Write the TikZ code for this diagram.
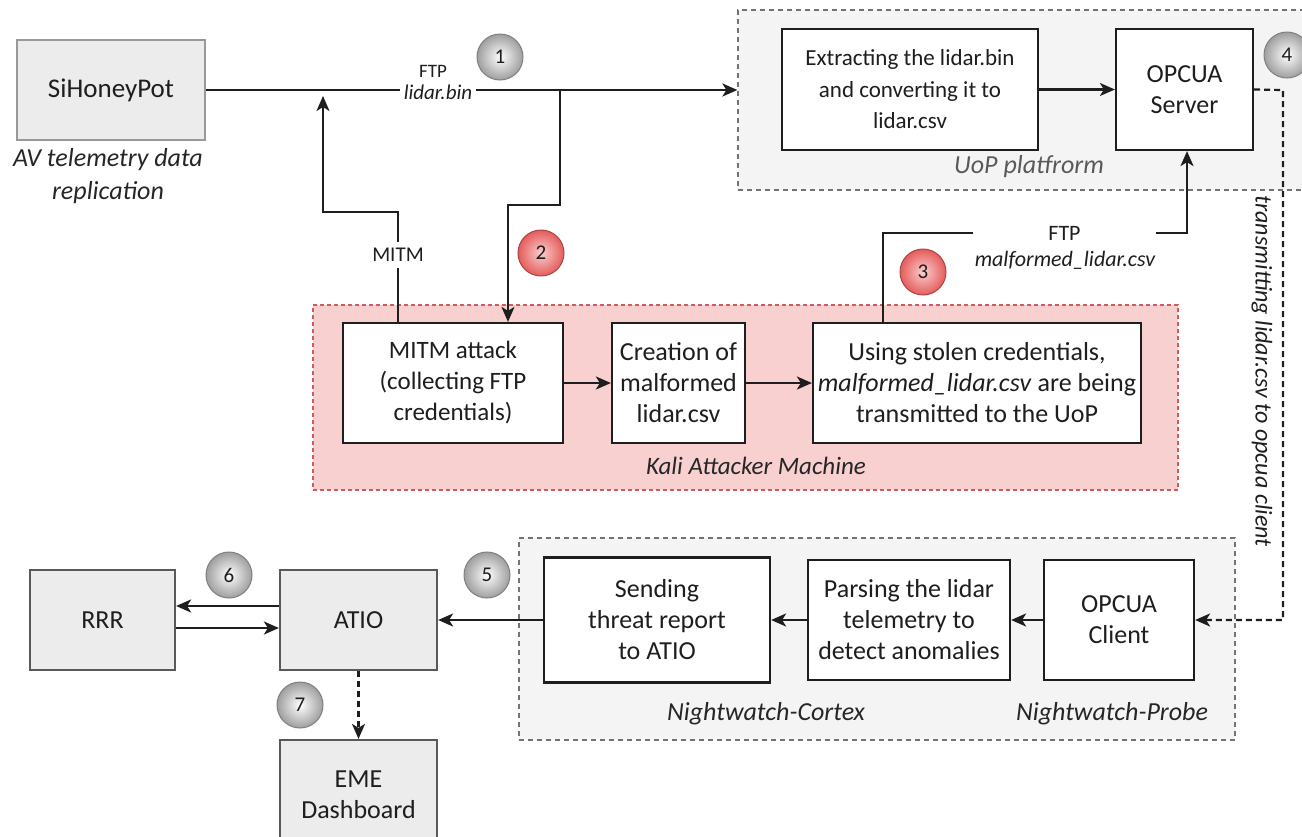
\documentclass[tikz,border=0pt]{standalone}
\usepackage{fontspec}
\setmainfont{Carlito}
\usetikzlibrary{arrows.meta}
\definecolor{boxgray}{RGB}{236,236,236}
\definecolor{regiongray}{RGB}{244,244,244}
\definecolor{kalifill}{RGB}{248,208,208}
\definecolor{kalidraw}{RGB}{210,90,90}
\definecolor{redin}{RGB}{252,205,205}
\definecolor{redout}{RGB}{228,92,92}
\definecolor{txt}{RGB}{30,30,30}
\tikzset{
  box/.style={draw=txt, line width=2.2pt, align=center, inner sep=0pt, text=txt,
    font=\fontsize{26}{31}\selectfont},
  graybox/.style={box, fill=boxgray, draw=black!65},
  region/.style={draw=black!55, line width=1.2pt, dash pattern=on 5pt off 4pt, fill=regiongray},
  kaliregion/.style={draw=kalidraw, line width=1.3pt, dash pattern=on 4pt off 3pt, fill=kalifill},
  arr/.style={line width=2.2pt, draw=txt, -{Stealth[length=15pt,width=13pt,inset=4pt]}},
  darr/.style={arr, dash pattern=on 6pt off 4pt},
  lbl/.style={font=\fontsize{19}{24}\selectfont, text=txt, inner sep=2pt},
  ilbl/.style={font=\fontsize{26}{33}\selectfont\itshape, text=black!85, align=center},
  numc/.style={circle, minimum size=46pt, inner sep=0pt, draw=black!50, line width=1pt,
    inner color=white, outer color=black!38, font=\fontsize{21}{22}\selectfont, text=txt},
  rednumc/.style={numc, inner color=redin, outer color=redout, draw=redout!75!black}
}
\begin{document}
\begin{tikzpicture}[x=1pt,y=-1pt]
\useasboundingbox (0,0) rectangle (1302,836);
% regions
\node[region, minimum width=567pt, minimum height=180pt] (uop) at (1021.5,100) {};
\node[ilbl, text=black!65] (uoplbl) at (1029,167) {UoP platfrorm};
\node[kaliregion, minimum width=865pt, minimum height=185pt] (kali) at (745.5,397.5) {};
\node[ilbl, font=\fontsize{25}{30}\selectfont\itshape] (kalilbl) at (756,466) {Kali Attacker Machine};
\node[region, minimum width=716pt, minimum height=202pt] (nw) at (877,639) {};
\node[ilbl] (cortex) at (766,714) {Nightwatch-Cortex};
\node[ilbl] (probe) at (1112,714) {Nightwatch-Probe};
% boxes
\node[graybox, draw=black!40, font=\fontsize{27}{31}\selectfont, minimum width=188pt, minimum height=100pt] (hp) at (111,90) {SiHoneyPot};
\node[ilbl] (hplbl) at (108,176.5) {AV telemetry data\\replication};
\node[box, fill=white, font=\fontsize{25}{31}\selectfont, minimum width=220pt, minimum height=120pt] (mitmbox) at (453,383) {MITM attack\\(collecting FTP\\credentials)};
\node[box, fill=white, minimum width=133pt, minimum height=120pt] (create) at (678.5,383) {Creation of\\malformed\\lidar.csv};
\node[box, fill=white, minimum width=328pt, minimum height=120pt] (using) at (977,383) {Using stolen credentials,\\\textit{malformed\_lidar.csv} are being\\transmitted to the UoP};
\node[box, fill=white, font=\fontsize{23}{31.5}\selectfont, minimum width=256pt, minimum height=121pt] (extract) at (910,89.5) {Extracting the lidar.bin\\and converting it to\\lidar.csv};
\node[box, fill=white, minimum width=137pt, minimum height=121pt] (server) at (1184.5,89.5) {OPCUA\\Server};
\node[box, fill=white, minimum width=226pt, minimum height=125pt] (sending) at (657,620) {Sending\\threat report\\to ATIO};
\node[box, fill=white, minimum width=202pt, minimum height=120pt] (parsing) at (909,620) {Parsing the lidar\\telemetry to\\detect anomalies};
\node[box, fill=white, minimum width=150pt, minimum height=120pt] (client) at (1119,620) {OPCUA\\Client};
\node[graybox, minimum width=145pt, minimum height=100pt] (rrr) at (102.5,620) {RRR};
\node[graybox, minimum width=157pt, minimum height=100pt] (atio) at (358.5,620) {ATIO};
\node[graybox, minimum width=157pt, minimum height=110pt] (eme) at (358.5,795) {EME\\Dashboard};
% coordinates
\coordinate (m1) at (323,212);
\coordinate (m2) at (323,96);
\coordinate (s1) at (560,90);
\coordinate (s2) at (508,205);
\coordinate (c3) at (1187,233);
\coordinate (d1) at (1283,90);
\coordinate (d2) at (1283,620);
% connectors
\draw[arr] (hp.east) -- (uop.west |- hp.east);
\draw[arr] ([xshift=-55pt]mitmbox.north) |- (m1) -- (m2);
\draw[arr] (s1) |- (s2) -- ([xshift=55pt]mitmbox.north);
\draw[arr] (mitmbox.east) -- (create.west);
\draw[arr] (create.east) -- (using.west);
\draw[arr] (extract.east) -- (server.west);
\draw[arr] ([xshift=-94pt]using.north) |- (c3) -- ([xshift=2.5pt]server.south);
\draw[darr] (server.east) -- (d1) -- (d2) -- (client.east);
\draw[arr] (client.west) -- (parsing.east);
\draw[arr] (parsing.west) -- (sending.east);
\draw[arr] (sending.west) -- (atio.east);
\draw[arr] ([yshift=14pt]atio.west) -- ([yshift=14pt]rrr.east);
\draw[arr] ([yshift=-8pt]rrr.east) -- ([yshift=-8pt]atio.west);
\draw[darr] (atio.south) -- (eme.north);
% labels
\node[lbl] (ftp1) at (433,71) {FTP};
\node[lbl, fill=white, inner xsep=4pt, font=\fontsize{21}{24}\selectfont\itshape] (bin1) at (438,92) {lidar.bin};
\node[lbl, fill=white, font=\fontsize{21}{24}\selectfont, inner ysep=6pt] (mitmlbl) at (398,255) {MITM};
\node[lbl, fill=white, minimum width=183pt, font=\fontsize{22}{24}\selectfont] (ftp2) at (1064.5,233) {FTP};
\node[lbl, font=\fontsize{22}{24}\selectfont\itshape] (mal) at (1065,260) {malformed\_lidar.csv};
\node[lbl, rotate=-90, font=\fontsize{24}{26}\selectfont\itshape] (trans) at (1262,371) {transmitting lidar.csv to opcua client};
% numbered circles
\node[numc] (n1) at (500,57) {1};
\node[rednumc] (n2) at (541,253) {2};
\node[rednumc] (n3) at (923,272) {3};
\node[numc] (n4) at (1287,55) {4};
\node[numc] (n5) at (487,575) {5};
\node[numc] (n6) at (229,575) {6};
\node[numc] (n7) at (300,705) {7};
\end{tikzpicture}
\end{document}
